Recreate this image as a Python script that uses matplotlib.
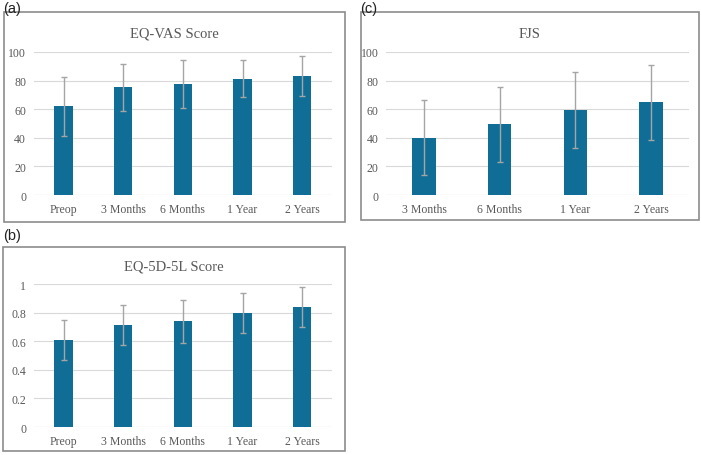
import matplotlib.pyplot as plt
from matplotlib.patches import Rectangle
import numpy as np

# values
cats_long = ['Preop', '3 Months', '6 Months', '1 Year', '2 Years']
cats_fjs = ['3 Months', '6 Months', '1 Year', '2 Years']

vas_mean = [62, 75.3, 77.5, 81.3, 83.2]
vas_sd = [20.5, 16.5, 17, 12.7, 14]

eq5d_mean = [0.61, 0.715, 0.74, 0.80, 0.84]
eq5d_sd = [0.14, 0.14, 0.15, 0.14, 0.14]

fjs_mean = [40.1, 49.4, 59.7, 64.8]
fjs_sd = [26, 26, 26.5, 26.2]

bar_color = '#106E96'
err_color = '#A5A5A5'
text_color = '#595959'
serif = 'Liberation Serif'

fig = plt.figure(figsize=(7.02, 4.56), dpi=100)


def panel(rect, box, cats, means, sds, ylim, yticks, ylabels, title, title_y, letter, letter_xy):
    # grey frame round each chart, like an Excel chart area
    fig.patches.append(Rectangle((box[0], box[1]), box[2], box[3], transform=fig.transFigure,
                                 fill=False, edgecolor='#8C8C8C', linewidth=1.2))
    ax = fig.add_axes(rect)
    x = np.arange(len(cats))
    ax.bar(x, means, width=0.31, color=bar_color, zorder=3)
    ax.errorbar(x, means, yerr=sds, fmt='none', ecolor=err_color, elinewidth=1,
                capsize=2.5, capthick=1, zorder=4)
    ax.set_xlim(-0.5, len(cats) - 0.5)
    ax.set_ylim(*ylim)
    ax.set_yticks(yticks)
    ax.set_yticklabels(ylabels, fontfamily=serif, fontsize=8.5, color=text_color)
    ax.set_xticks(x)
    ax.set_xticklabels(cats, fontfamily=serif, fontsize=8.5, color=text_color)
    ax.tick_params(axis='x', length=0, pad=6)
    ax.tick_params(axis='y', length=0, pad=5.5)
    ax.grid(axis='y', color='#D9D9D9', linewidth=0.8, zorder=0)
    for s in ax.spines.values():
        s.set_visible(False)
    ax.axhline(ylim[0], color='#D9D9D9', linewidth=0.8, zorder=1)
    fig.text(box[0] + box[2] / 2, title_y, title, ha='center', va='center',
             fontfamily=serif, fontsize=10.5, color=text_color)
    fig.text(letter_xy[0], letter_xy[1], letter, ha='left', va='center',
             fontfamily='Liberation Sans', fontsize=10.5, color='#222222')
    return ax


panel([0.048, 0.570, 0.425, 0.314], [0.0057, 0.511, 0.486, 0.4605],
      cats_long, vas_mean, vas_sd, (0, 100), [0, 20, 40, 60, 80, 100],
      ['0', '20', '40', '60', '80', '100'], 'EQ-VAS Score', 0.925, '(a)', (0.004, 0.981))

panel([0.55, 0.570, 0.4316, 0.314], [0.514, 0.5154, 0.4815, 0.456],
      cats_fjs, fjs_mean, fjs_sd, (0, 100), [0, 20, 40, 60, 80, 100],
      ['0', '20', '40', '60', '80', '100'], 'FJS', 0.925, '(c)', (0.513, 0.981))

panel([0.048, 0.0614, 0.425, 0.3136], [0.0043, 0.0088, 0.487, 0.447],
      cats_long, eq5d_mean, eq5d_sd, (0, 1), [0, 0.2, 0.4, 0.6, 0.8, 1.0],
      ['0', '0.2', '0.4', '0.6', '0.8', '1'], 'EQ-5D-5L Score', 0.414, '(b)', (0.004, 0.482))

fig.savefig('out.png', dpi=100)
